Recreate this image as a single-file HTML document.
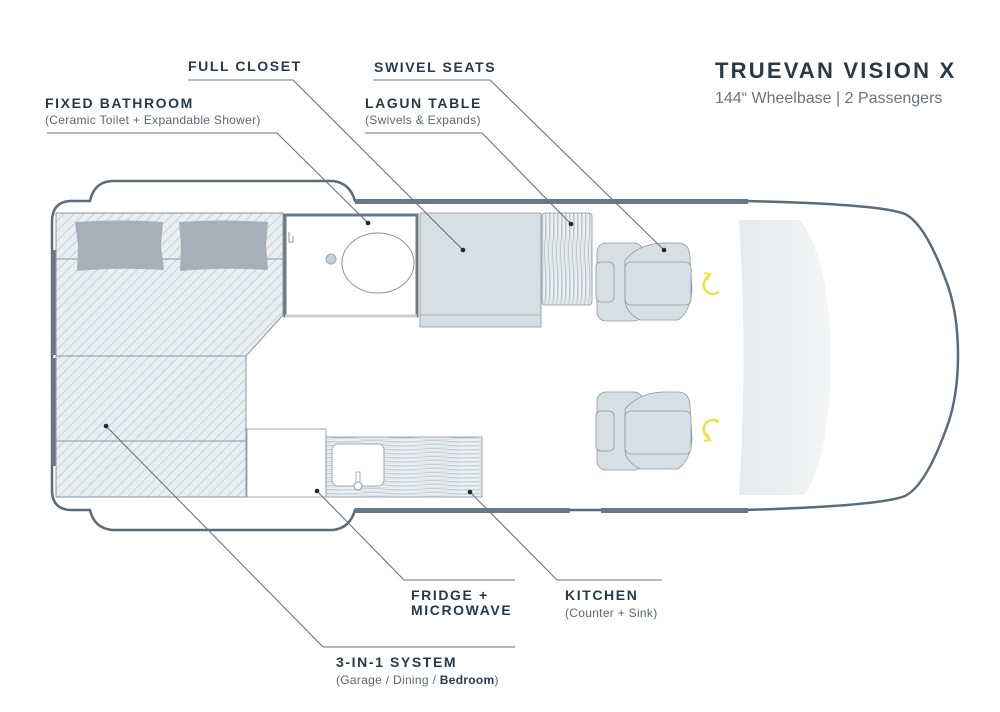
<!DOCTYPE html>
<html><head><meta charset="utf-8"><style>
html,body{margin:0;padding:0;background:#fff;}
svg{display:block;}
.lb{font-family:"Liberation Sans",sans-serif;font-weight:bold;font-size:14px;letter-spacing:1.6px;fill:#2b3945;}
.sm{font-family:"Liberation Sans",sans-serif;font-size:12px;fill:#5c6670;letter-spacing:0.3px;}
.ln{stroke:#6a737b;stroke-width:1.1;fill:none;}
</style></head><body>
<svg width="1000" height="712" viewBox="0 0 1000 712" xmlns="http://www.w3.org/2000/svg">
<defs>
<pattern id="hatch" width="7" height="7" patternUnits="userSpaceOnUse" patternTransform="rotate(45)">
<rect width="7" height="7" fill="#e9eef1"/><line x1="0" y1="0" x2="0" y2="7" stroke="#c9d2d8" stroke-width="2.2"/>
</pattern>
<pattern id="wood" width="60" height="4" patternUnits="userSpaceOnUse">
<rect width="60" height="4" fill="#eef1f3"/><path d="M0 1 Q15 0.3 30 1.4 T60 1" stroke="#aab3ba" stroke-width="0.6" fill="none"/><path d="M0 3 Q20 3.6 40 2.8 T60 3" stroke="#c4cbd0" stroke-width="0.5" fill="none"/>
</pattern>
<pattern id="woodv" width="4" height="60" patternUnits="userSpaceOnUse">
<rect width="4" height="60" fill="#eef1f3"/><path d="M1 0 Q0.3 15 1.4 30 T1 60" stroke="#9aa4ab" stroke-width="0.6" fill="none"/><path d="M3 0 Q3.6 20 2.8 40 T3 60" stroke="#c4cbd0" stroke-width="0.5" fill="none"/>
</pattern>
<linearGradient id="ws" x1="0" x2="1"><stop offset="0" stop-color="#e6eaec"/><stop offset="1" stop-color="#f3f5f6"/></linearGradient>
</defs>

<path d="M52,222 Q52,202 70,201 L90,201 Q94,182 112,181 L333,181 Q350,183 355,201 L745,201 Q880,204 905,214 Q925,224 945,278 Q958,310 958,355 Q958,400 945,432 Q925,486 905,496 Q880,506 745,510 L355,510 Q350,528 333,530 L112,530 Q94,528 90,510 L70,510 Q52,509 52,490 Z" fill="#fff" stroke="#5d6b78" stroke-width="2.5"/>
<rect x="355" y="199" width="393" height="5" fill="#6b7884"/>
<rect x="355" y="508" width="215" height="5" fill="#6b7884"/>
<rect x="601" y="508" width="147" height="5" fill="#6b7884"/>
<rect x="51" y="250" width="5" height="105" fill="#6b7884"/>
<rect x="51" y="358" width="5" height="108" fill="#6b7884"/>

<path d="M56,213 L283,213 L283,315 L246,356 L246,497 L56,497 Z" fill="url(#hatch)" stroke="#8a96a0" stroke-width="1"/>
<line x1="56" y1="356" x2="246" y2="356" stroke="#8a96a0" stroke-width="1"/>
<line x1="56" y1="441" x2="246" y2="441" stroke="#8a96a0" stroke-width="1"/>
<line x1="56" y1="259" x2="283" y2="259" stroke="#8a96a0" stroke-width="1"/>
<path d="M75,222 Q118,219 163,222 L161,246 L164,270 Q118,267 77,271 L78,246 Z" fill="#a7b0b8"/>
<path d="M179,222 Q223,219 268,222 L266,246 L268,270 Q223,267 180,271 L181,246 Z" fill="#a7b0b8"/>

<rect x="285" y="215" width="132" height="101" fill="#fff" stroke="#6b7884" stroke-width="3"/>
<line x1="285" y1="316" x2="417" y2="316" stroke="#c8d0d5" stroke-width="3"/>
<ellipse cx="378" cy="263" rx="36" ry="30" fill="#fff" stroke="#8a96a0" stroke-width="1"/>
<circle cx="331" cy="259" r="5" fill="#c8cfd4" stroke="#a0a9b0"/>
<path d="M289,232 v10 h4 v-6" stroke="#8a96a0" fill="none"/>

<rect x="420" y="213" width="121" height="114" fill="#d8dfe2" stroke="#8a96a0" stroke-width="0.8"/>
<line x1="420" y1="315" x2="541" y2="315" stroke="#9aa4ab" stroke-width="0.8"/>
<rect x="542" y="213" width="50" height="92" rx="3" fill="url(#woodv)" stroke="#8a96a0" stroke-width="0.8"/>

<g fill="#d8dfe2" stroke="#8a96a0" stroke-width="0.8">
<rect x="597" y="243" width="46" height="78" rx="9"/>
<rect x="596" y="262" width="18" height="40" rx="5"/>
<path d="M625,260 Q640,243 665,243 L678,243 Q690,243 690,258 L692,290 Q690,312 678,320 L640,320 Q625,312 625,300 Z"/>
<rect x="625" y="262" width="66" height="43" rx="6"/>
<rect x="597" y="392" width="46" height="78" rx="9"/>
<rect x="596" y="411" width="18" height="40" rx="5"/>
<path d="M625,409 Q640,392 665,392 L678,392 Q690,392 690,407 L692,439 Q690,461 678,469 L640,469 Q625,461 625,449 Z"/>
<rect x="625" y="411" width="66" height="43" rx="6"/>
</g>
<path d="M708,276 Q700,285 707,292 Q713,296 719,292" stroke="#eee24a" stroke-width="2.5" fill="none"/>
<path d="M704,273 L710,274 L707,280" stroke="#eee24a" stroke-width="2" fill="none"/>
<path d="M708,438 Q700,429 707,422 Q713,418 719,422" stroke="#eee24a" stroke-width="2.5" fill="none"/>
<path d="M704,441 L710,440 L707,434" stroke="#eee24a" stroke-width="2" fill="none"/>

<path d="M739,220 L800,220 Q830,260 831,357 Q830,455 805,495 L739,495 Q748,357 739,220 Z" fill="url(#ws)"/>

<rect x="247" y="429" width="79" height="68" fill="#fff" stroke="#8a96a0" stroke-width="0.8"/>
<rect x="326" y="437" width="156" height="60" fill="url(#wood)" stroke="#8a96a0" stroke-width="0.8"/>
<rect x="332" y="444" width="52" height="42" rx="6" fill="#fff" stroke="#8a96a0" stroke-width="0.8"/>
<circle cx="358" cy="486" r="4" fill="#fff" stroke="#8a96a0"/>
<rect x="356" y="472" width="4" height="10" fill="#fff" stroke="#8a96a0" stroke-width="0.7"/>

<polyline class="ln" points="47,133 277,133 368,223"/>
<polyline class="ln" points="188,80 293,80 463,250"/>
<polyline class="ln" points="373,80 490,80 664,250"/>
<polyline class="ln" points="365,133 482,133 571,224"/>
<polyline class="ln" points="106,426 323,647 515,647"/>
<polyline class="ln" points="317,491 404,580 515,580"/>
<polyline class="ln" points="470,492 557,580 662,580"/>
<g fill="#1e2830">
<circle cx="368" cy="223" r="2.3"/><circle cx="463" cy="250" r="2.3"/><circle cx="664" cy="250" r="2.3"/><circle cx="571" cy="224" r="2.3"/><circle cx="106" cy="426" r="2.3"/><circle cx="317" cy="491" r="2.3"/><circle cx="470" cy="492" r="2.3"/>
</g>

<text class="lb" x="188" y="71">FULL CLOSET</text>
<text class="lb" x="374" y="72">SWIVEL SEATS</text>
<text class="lb" x="45" y="108">FIXED BATHROOM</text>
<text class="sm" x="45" y="124">(Ceramic Toilet + Expandable Shower)</text>
<text class="lb" x="365" y="108">LAGUN TABLE</text>
<text class="sm" x="365" y="124">(Swivels &amp; Expands)</text>
<text class="lb" x="411" y="600">FRIDGE +</text>
<text class="lb" x="411" y="615">MICROWAVE</text>
<text class="lb" x="565" y="600">KITCHEN</text>
<text class="sm" x="565" y="617">(Counter + Sink)</text>
<text class="lb" x="336" y="667">3-IN-1 SYSTEM</text>
<text class="sm" x="336" y="684">(Garage / Dining / <tspan font-weight="bold" fill="#2b3945">Bedroom</tspan>)</text>
<text x="715" y="78" font-family="Liberation Sans,sans-serif" font-weight="bold" font-size="22" letter-spacing="2.2" fill="#2b3945">TRUEVAN VISION X</text>
<text x="715" y="103" font-family="Liberation Sans,sans-serif" font-size="16" fill="#6b747c">144“ Wheelbase  |  2 Passengers</text>
</svg>
</body></html>
